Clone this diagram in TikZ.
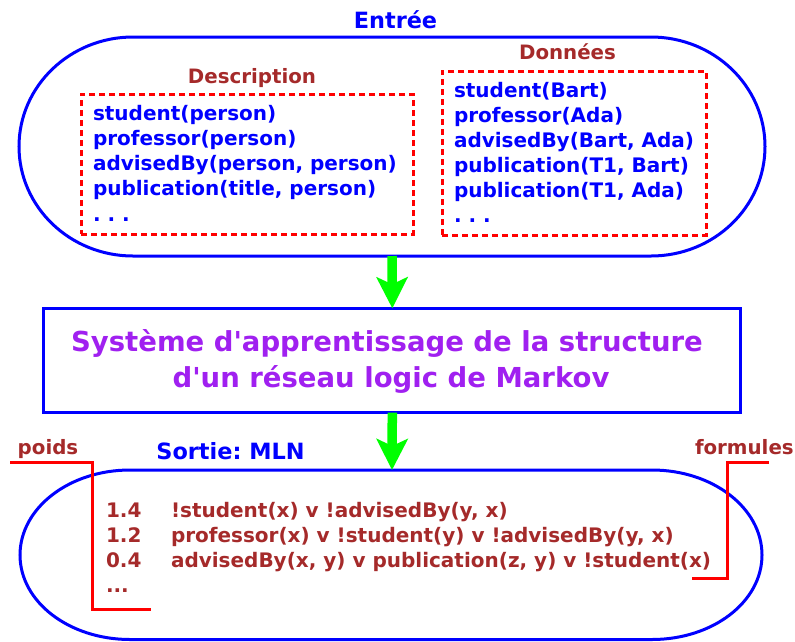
\documentclass[tikz,border=0pt]{standalone}
\usepackage{fontspec}
\setmainfont{DejaVu Sans}[Ligatures=NoCommon]
\usetikzlibrary{arrows.meta}
\definecolor{cblue}{RGB}{0,0,255}
\definecolor{cbrown}{RGB}{165,42,42}
\definecolor{cred}{RGB}{255,0,0}
\definecolor{cgreen}{RGB}{0,255,0}
\definecolor{cpurple}{RGB}{160,32,240}
\frenchspacing
\begin{document}
\frenchspacing
\begin{tikzpicture}[x=1pt,y=-1pt,
  every node/.style={inner sep=0pt,outer sep=0pt},
  bodytxt/.style={anchor=base west,text=cblue,font=\fontsize{20}{25}\selectfont\bfseries\frenchspacing},
  formtxt/.style={anchor=base west,text=cbrown,font=\fontsize{20}{25}\selectfont\bfseries\frenchspacing},
  labeltxt/.style={anchor=base,text=cbrown,font=\fontsize{19.8}{24}\selectfont\bfseries\frenchspacing},
  titletxt/.style={anchor=base,text=cblue,font=\fontsize{22.4}{27}\selectfont\bfseries\frenchspacing},
  systxt/.style={anchor=base,text=cpurple,font=\fontsize{27.5}{34}\selectfont\bfseries\frenchspacing},
  stadium/.style={draw=cblue,line width=3pt},
  dashbox/.style={draw=cred,line width=3pt,dash pattern=on 6pt off 4pt},
  sysbox/.style={draw=cblue,line width=3pt,minimum width=696.7pt,minimum height=104.4pt},
  bracket/.style={draw=cred,line width=3pt},
  flow/.style={draw=cgreen,line width=9.5pt,-{Stealth[length=31pt,width=31pt,inset=7pt]}}
]
\useasboundingbox (0,0) rectangle (795,641);

% ---------- Entree stadium ----------
\draw[stadium] (133,37) -- (651,37)
  .. controls (713.96,37) and (765,86.02) .. (765,146.5)
  .. controls (765,206.98) and (713.96,256) .. (651,256)
  -- (133,256)
  .. controls (70.04,256) and (19,206.98) .. (19,146.5)
  .. controls (19,86.02) and (70.04,37) .. cycle;
\coordinate (inS) at (392,256);
\node[titletxt] (entree) at (395.5,28.3) {Entrée};

% Description
\node[labeltxt] (desclbl) at (252,83.3) {Description};
\node[dashbox,minimum width=332pt,minimum height=140pt] (descbox) at (247,164) {};
\node[bodytxt] (d1) at (93,120) {student(person)};
\node[bodytxt] (d2) at (93,145) {professor(person)};
\node[bodytxt] (d3) at (93,170) {advisedBy(person, person)};
\node[bodytxt] (d4) at (93,195) {publication(title, person)};
\node[bodytxt] (d5) at (93,221) {. . .};

% Donnees
\node[labeltxt] (donlbl) at (567.5,59.3) {Données};
\node[dashbox,minimum width=264pt,minimum height=164pt] (donbox) at (574,153) {};
\node[bodytxt] (e1) at (454,97) {student(Bart)};
\node[bodytxt] (e2) at (454,122) {professor(Ada)};
\node[bodytxt] (e3) at (454,147) {advisedBy(Bart, Ada)};
\node[bodytxt] (e4) at (454,172) {publication(T1, Bart)};
\node[bodytxt] (e5) at (454,197) {publication(T1, Ada)};
\node[bodytxt] (e6) at (454,222.5) {. . .};

% ---------- System box ----------
\node[sysbox] (sys) at (392.3,360.5) {};
\node[systxt] (sysA) at (387,351.7) {Système d\textquotesingle apprentissage de la structure};
\node[systxt] (sysB) at (391,387.3) {d\textquotesingle un réseau logic de Markov};

% ---------- Sortie stadium ----------
\draw[stadium] (130,470) -- (652,470)
  .. controls (712.75,470) and (762,508.05) .. (762,555)
  .. controls (762,601.95) and (712.75,639.5) .. (652,639.5)
  -- (130,639.5)
  .. controls (69.25,639.5) and (20,601.95) .. (20,555)
  .. controls (20,508.05) and (69.25,470) .. cycle;
\coordinate (outN) at (392,470);
\node[titletxt] (sortie) at (230.5,459.3) {Sortie: MLN};

\node[formtxt] (w1) at (106,517) {1.4};
\node[formtxt] (w2) at (106,542) {1.2};
\node[formtxt] (w3) at (106,567) {0.4};
\node[formtxt] (w4) at (106,592) {...};
\node[formtxt] (f1) at (171,517) {!student(x) v !advisedBy(y, x)};
\node[formtxt] (f2) at (171,542) {professor(x) v !student(y) v !advisedBy(y, x)};
\node[formtxt] (f3) at (171,567) {advisedBy(x, y) v publication(z, y) v !student(x)};

% brackets
\node[labeltxt] (poids) at (48,454.3) {poids};
\node[labeltxt,anchor=base west] (formules) at (695,454.3) {formules};
\coordinate (pA) at (10,462);
\coordinate (pB) at (92,462);
\coordinate (pC) at (92,609);
\coordinate (pD) at (151,609);
\draw[bracket] (pA) -- (pB) -- (pC) -- (pD);
\coordinate (fA) at (769,462);
\coordinate (fB) at (727,462);
\coordinate (fC) at (727,578);
\coordinate (fD) at (692,578);
\draw[bracket] (fA) -- (fB) -- (fC) -- (fD);

% ---------- arrows ----------
\draw[flow] (inS) -- (sys.north);
\draw[flow] (sys.south) -- (outN);
\end{tikzpicture}
\end{document}
